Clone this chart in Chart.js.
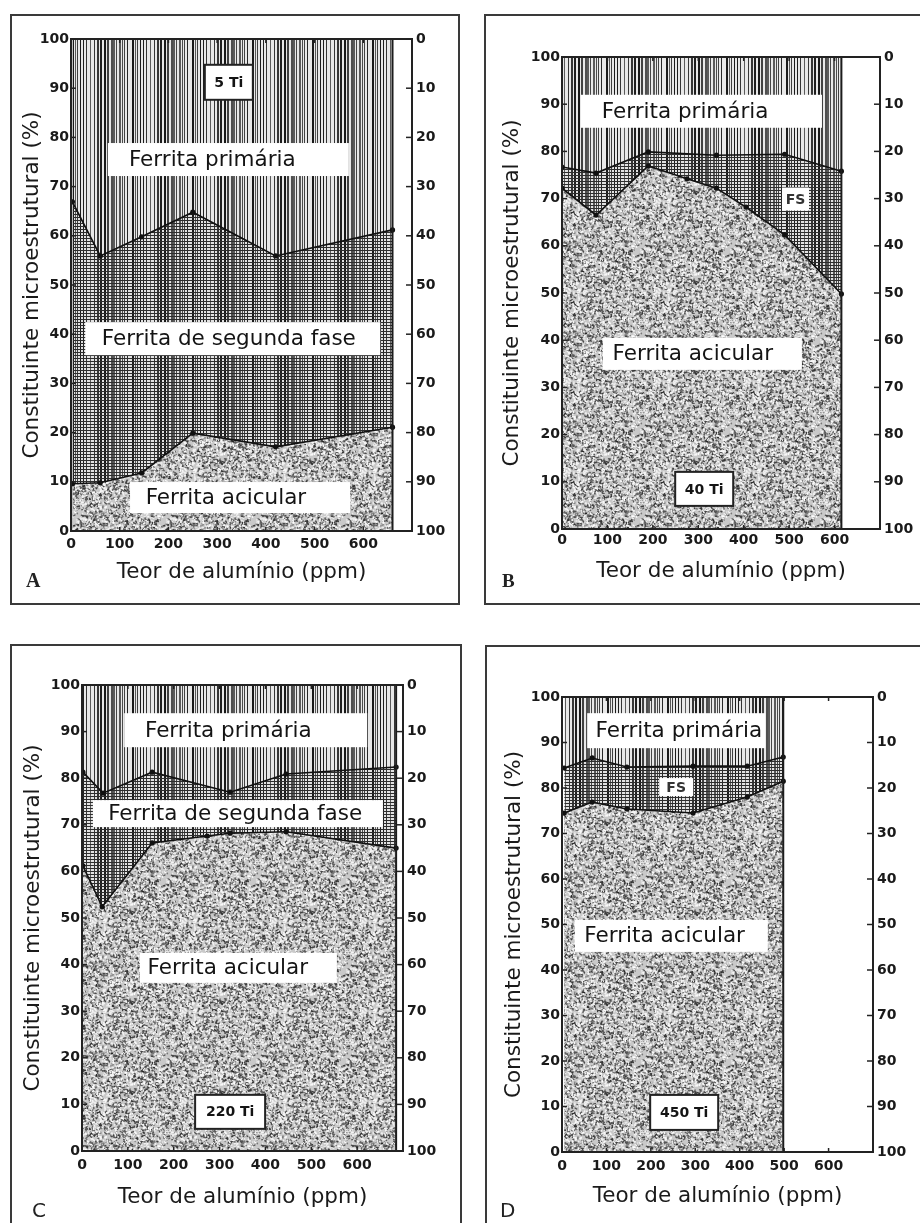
<!DOCTYPE html>
<html><head><meta charset="utf-8">
<script src="https://cdn.jsdelivr.net/npm/chart.js@4.4.0/dist/chart.umd.min.js"></script>
<style>
html,body{margin:0;padding:0;background:#fff;width:920px;height:1223px;overflow:hidden;position:relative;font-family:"DejaVu Sans",sans-serif;}
.frame{position:absolute;border:2px solid #3a3a3a;box-sizing:border-box;}
.cv{position:absolute;}
.letter{position:absolute;line-height:20px;color:#222;white-space:nowrap;}
</style></head><body>
<div class="frame" style="left:10px;top:14px;width:450px;height:591px"></div>
<div class="frame" style="left:484px;top:14px;width:450px;height:591px"></div>
<div class="frame" style="left:10px;top:644px;width:452px;height:600px"></div>
<div class="frame" style="left:485px;top:645px;width:450px;height:600px"></div>
<canvas id="cA" class="cv" width="446" height="587" style="left:12px;top:16px"></canvas>
<canvas id="cB" class="cv" width="434" height="587" style="left:486px;top:16px"></canvas>
<canvas id="cC" class="cv" width="448" height="577" style="left:12px;top:646px"></canvas>
<canvas id="cD" class="cv" width="433" height="576" style="left:487px;top:647px"></canvas>
<div class="letter" style="left:26px;top:570px;font:bold 20px 'Liberation Serif',serif;line-height:20px">A</div>
<div class="letter" style="left:502px;top:571px;font:bold 19px 'Liberation Serif',serif;line-height:20px">B</div>
<div class="letter" style="left:32px;top:1200px;font:20px 'DejaVu Sans',sans-serif;line-height:20px">C</div>
<div class="letter" style="left:500px;top:1200px;font:20px 'DejaVu Sans',sans-serif;line-height:20px">D</div>
<script>
// ---------- tick labels ----------
const xTicks = [0, 100, 200, 300, 400, 500, 600];
const yTicks = [0, 10, 20, 30, 40, 50, 60, 70, 80, 90, 100];
const y2Ticks = [0, 10, 20, 30, 40, 50, 60, 70, 80, 90, 100];
const xTitle = 'Teor de alumínio (ppm)';
const yTitle = 'Constituinte microestrutural (%)';

// ---------- Panel A : 5 Ti ----------
const alA_up = [3, 60, 145, 250, 420, 660];
const fpA = [66.9, 55.9, 59.8, 64.8, 55.9, 61.2];      // limite ferrita primária / segunda fase
const alA_low = [3, 60, 145, 250, 420, 660];
const faA = [9.6, 9.8, 11.8, 19.9, 17.1, 21.1];        // limite ferrita acicular

// ---------- Panel B : 40 Ti ----------
const alB_up = [0, 75, 190, 340, 490, 615];
const fpB = [76.7, 75.4, 79.9, 79.2, 79.4, 75.8];
const alB_low = [0, 75, 190, 275, 340, 405, 490, 615];
const faB = [72.2, 66.5, 76.9, 74.2, 72.2, 68.2, 62.3, 49.8];

// ---------- Panel C : 220 Ti ----------
const alC_up = [2, 46, 153, 323, 445, 685];
const fpC = [81.3, 76.8, 81.3, 77.0, 80.9, 82.4];
const alC_low = [2, 44, 153, 273, 323, 445, 685];
const faC = [61.2, 52.4, 66.1, 67.6, 68.2, 68.5, 65.0];

// ---------- Panel D : 450 Ti ----------
const alD_up = [5, 68, 146, 295, 417, 498];
const fpD = [84.4, 86.6, 84.6, 84.8, 84.8, 86.8];
const alD_low = [5, 68, 146, 295, 417, 498];
const faD = [74.5, 76.9, 75.4, 74.5, 78.0, 81.5];

// ---------- textures (decorative fills) ----------
function lcg(seed){ let s = seed >>> 0; return () => { s = (Math.imul(s, 1664525) + 1013904223) >>> 0; return s / 4294967296; }; }
function makePatterns(){
  const W = 60, H = 60;
  const r = lcg(12345);
  const lines = [];
  let px = 0;
  while (px < W - 2) { lines.push({x: px, w: r() < 0.35 ? 2 : 1, g: 25 + Math.floor(r()*70)}); px += 2 + Math.floor(r()*2.4); }
  function drawVert(g){
    lines.forEach(l => { g.fillStyle = `rgb(${l.g},${l.g},${l.g})`; g.fillRect(l.x, 0, l.w, H); });
  }
  const c1 = document.createElement('canvas'); c1.width = W; c1.height = H;
  const g1 = c1.getContext('2d');
  g1.fillStyle = '#e8e8e8'; g1.fillRect(0, 0, W, H); drawVert(g1);
  const c2 = document.createElement('canvas'); c2.width = W; c2.height = H;
  const g2 = c2.getContext('2d');
  g2.fillStyle = '#e2e2e2'; g2.fillRect(0, 0, W, H); drawVert(g2);
  g2.fillStyle = '#2e2e2e';
  for (let yy = 0; yy < H; yy += 3) g2.fillRect(0, yy, W, 1);
  const AW = 90, AH = 90;
  const c3 = document.createElement('canvas'); c3.width = AW; c3.height = AH;
  const g3 = c3.getContext('2d');
  g3.fillStyle = '#c9c9c9'; g3.fillRect(0, 0, AW, AH);
  const r2 = lcg(777);
  function strokes(n, lo, hi, lmin, lrange){
    for (let i = 0; i < n; i++) {
      const x0 = r2()*AW, y0 = r2()*AH, a = r2()*Math.PI, len = lmin + r2()*lrange;
      const gv = lo + Math.floor(r2()*(hi - lo));
      g3.strokeStyle = `rgb(${gv},${gv},${gv})`;
      g3.lineWidth = 0.9 + r2()*0.8;
      for (const ox of [-AW, 0, AW]) for (const oy of [-AH, 0, AH]) {
        g3.beginPath();
        g3.moveTo(x0 + ox, y0 + oy);
        g3.lineTo(x0 + ox + Math.cos(a)*len, y0 + oy + Math.sin(a)*len);
        g3.stroke();
      }
    }
  }
  strokes(1300, 40, 120, 1.2, 2.6);
  strokes(900, 235, 255, 1.0, 2.6);
  const tmp = document.createElement('canvas').getContext('2d');
  return {fp: tmp.createPattern(c1, 'repeat'), fs: tmp.createPattern(c2, 'repeat'), fa: tmp.createPattern(c3, 'repeat')};
}
const PAT = makePatterns();

const pts = (xs, ys) => xs.map((v, i) => ({x: v, y: ys[i]}));
const tickFont = {family: 'DejaVu Sans', size: 14, weight: 'bold'};
const xTitleFont = {family: 'DejaVu Sans', size: 21.5};
const yTitleFont = {family: 'DejaVu Sans', size: 21.5};

function decorPlugin(notes, edgeX){
  return {
    id: 'decor',
    afterDatasetsDraw(chart){
      const {ctx, chartArea: a, scales} = chart;
      const x = scales.x, y = scales.y, y2 = scales.y2;
      ctx.save();
      const line = (x1, y1, x2, y2_) => { ctx.beginPath(); ctx.moveTo(x1, y1); ctx.lineTo(x2, y2_); ctx.stroke(); };
      ctx.strokeStyle = '#1c1c1c'; ctx.lineWidth = 2;
      const ex = x.getPixelForValue(edgeX);
      line(ex, a.top, ex, a.bottom);
      ctx.strokeStyle = '#222'; ctx.lineWidth = 2;
      ctx.strokeRect(a.left, a.top, a.right - a.left, a.bottom - a.top);
      ctx.lineWidth = 1.5;
      y.ticks.forEach(t => { const py = y.getPixelForValue(t.value); line(a.left, py, a.left + 5, py); });
      y2.ticks.forEach(t => { const py = y2.getPixelForValue(t.value); line(a.right - 6, py, a.right, py); });
      x.ticks.forEach(t => { const p = x.getPixelForValue(t.value); line(p, a.bottom, p, a.bottom - 4); line(p, a.top, p, a.top + 4); });
      notes.forEach(n => {
        const cx = x.getPixelForValue(n.x), cy = y.getPixelForValue(n.y);
        ctx.fillStyle = '#fff';
        ctx.fillRect(cx - n.w/2, cy - n.h/2, n.w, n.h);
        if (n.boxed) { ctx.lineWidth = 2; ctx.strokeStyle = '#222'; ctx.strokeRect(cx - n.w/2, cy - n.h/2, n.w, n.h); }
        ctx.font = n.boxed ? 'bold 14px "DejaVu Sans"' : (n.small ? 'bold 14px "DejaVu Sans"' : '21.5px "DejaVu Sans"');
        ctx.fillStyle = n.small ? '#333' : '#141414';
        ctx.textAlign = 'center'; ctx.textBaseline = 'middle';
        const tx = n.tx !== undefined ? x.getPixelForValue(n.tx) : cx;
        ctx.fillText(n.t, tx, cy + 1);
      });
      ctx.restore();
    }
  };
}

function build(id, P){
  new Chart(document.getElementById(id), {
    type: 'line',
    data: {datasets: [
      {label: 'Ferrita acicular', data: pts(P.lowX, P.lowY), fill: 'origin', backgroundColor: PAT.fa,
       borderColor: '#111', borderWidth: 1.6, pointRadius: 2.6, pointBackgroundColor: '#111', pointBorderWidth: 0, tension: 0, order: 1},
      {label: 'Ferrita de segunda fase', data: pts(P.upX, P.upY), fill: 'origin', backgroundColor: PAT.fs,
       borderColor: '#111', borderWidth: 1.6, pointRadius: 2.6, pointBackgroundColor: '#111', pointBorderWidth: 0, tension: 0, order: 2},
      {label: 'Ferrita primária', data: pts(P.upX, P.upY), fill: 'end', backgroundColor: PAT.fp,
       borderWidth: 0, pointRadius: 0, tension: 0, order: 3}
    ]},
    options: {
      responsive: false, animation: false, events: [],
      layout: {padding: P.pad},
      plugins: {legend: {display: false}, tooltip: {enabled: false}},
      scales: {
        x: {type: 'linear', min: 0, max: 700,
            afterBuildTicks: s => { s.ticks = xTicks.map(v => ({value: v})); },
            afterFit: s => { s.height = P.bh; },
            grid: {display: false, drawTicks: false, tickLength: 0}, border: {display: false},
            ticks: {font: tickFont, color: '#1a1a1a', padding: P.xpad, maxRotation: 0, autoSkip: false},
            title: {display: true, text: xTitle, font: xTitleFont, color: '#1a1a1a', padding: 0}},
        y: {type: 'linear', position: 'left', min: 0, max: 100,
            afterBuildTicks: s => { s.ticks = yTicks.map(v => ({value: v})); },
            afterFit: s => { s.width = P.lw; },
            grid: {display: false, drawTicks: false, tickLength: 0}, border: {display: false},
            ticks: {font: tickFont, color: '#1a1a1a', padding: 2, autoSkip: false},
            title: {display: true, text: yTitle, font: yTitleFont, color: '#1a1a1a', padding: 0}},
        y2: {type: 'linear', position: 'right', min: 0, max: 100, reverse: true,
            afterBuildTicks: s => { s.ticks = y2Ticks.map(v => ({value: v})); },
            afterFit: s => { s.width = 40; },
            grid: {display: false, drawTicks: false, tickLength: 0}, border: {display: false},
            ticks: {font: tickFont, color: '#1a1a1a', padding: 4, autoSkip: false}}
      }
    },
    plugins: [decorPlugin(P.notes, P.edge)]
  });
}

build('cA', {upX: alA_up, upY: fpA, lowX: alA_low, lowY: faA, edge: alA_up[alA_up.length - 1],
  pad: {left: 8, top: 23, right: 6, bottom: 18}, lw: 51, bh: 54, xpad: 5,
  notes: [
    {t: '5 Ti', x: 324, y: 91.2, w: 48, h: 35, boxed: true},
    {t: 'Ferrita primária', x: 323, y: 75.5, w: 241, h: 33, tx: 290},
    {t: 'Ferrita de segunda fase', x: 332, y: 39.1, w: 295, h: 33, tx: 324},
    {t: 'Ferrita acicular', x: 347, y: 6.8, w: 220, h: 31, tx: 318}
  ]});
build('cB', {upX: alB_up, upY: fpB, lowX: alB_low, lowY: faB, edge: alB_up[alB_up.length - 1],
  pad: {left: 14, top: 41, right: 0, bottom: 19}, lw: 62, bh: 55, xpad: 3,
  notes: [
    {t: 'Ferrita primária', x: 307, y: 88.5, w: 241, h: 33, tx: 271},
    {t: 'FS', x: 514, y: 69.9, w: 27, h: 23, small: true},
    {t: 'Ferrita acicular', x: 309, y: 37.1, w: 199, h: 32, tx: 288},
    {t: '40 Ti', x: 313, y: 8.5, w: 58, h: 34, boxed: true}
  ]});
build('cC', {upX: alC_up, upY: fpC, lowX: alC_low, lowY: faC, edge: alC_up[alC_up.length - 1],
  pad: {left: 9, top: 39, right: 17, bottom: 13}, lw: 61, bh: 59, xpad: 6,
  notes: [
    {t: 'Ferrita primária', x: 357, y: 90.3, w: 243, h: 34, tx: 319},
    {t: 'Ferrita de segunda fase', x: 340, y: 72.4, w: 290, h: 27, tx: 334},
    {t: 'Ferrita acicular', x: 341, y: 39.3, w: 197, h: 30, tx: 318},
    {t: '220 Ti', x: 323, y: 8.4, w: 70, h: 34, boxed: true}
  ]});
build('cD', {upX: alD_up, upY: fpD, lowX: alD_low, lowY: faD, edge: alD_up[alD_up.length - 1],
  pad: {left: 15, top: 50, right: 7, bottom: 14}, lw: 60, bh: 57, xpad: 6,
  notes: [
    {t: 'Ferrita primária', x: 257, y: 92.6, w: 178, h: 35, tx: 263},
    {t: 'FS', x: 257, y: 80.2, w: 34, h: 18, small: true},
    {t: 'Ferrita acicular', x: 246, y: 47.5, w: 193, h: 32, tx: 231},
    {t: '450 Ti', x: 275, y: 8.7, w: 68, h: 35, boxed: true}
  ]});
</script>
</body></html>
